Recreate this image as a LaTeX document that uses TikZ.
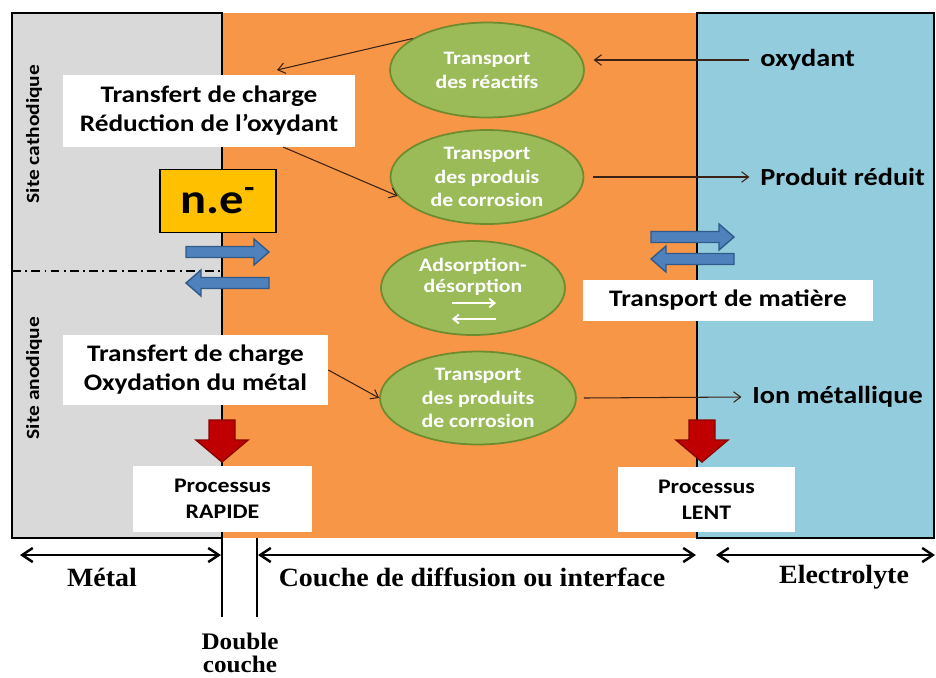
\documentclass[tikz,border=0pt]{standalone}
\usepackage{fontspec}
\setmainfont{Carlito}[FakeStretch=1.15]
\newfontfamily\timesf{Liberation Serif}[FakeStretch=1.06]
\usetikzlibrary{shapes.geometric,arrows.meta,calc}
\definecolor{metalc}{HTML}{D9D9D9}
\definecolor{orangec}{HTML}{F79646}
\definecolor{bluec}{HTML}{93CDDD}
\definecolor{egreen}{HTML}{9BBB59}
\definecolor{egreenD}{HTML}{6E8B2E}
\definecolor{yellowc}{HTML}{FFC000}
\definecolor{barrow}{HTML}{4F81BD}
\definecolor{barrowD}{HTML}{2F5A8A}
\definecolor{redc}{HTML}{C00000}
\definecolor{redD}{HTML}{8B0000}
\definecolor{arrowc}{HTML}{3A2215}
\tikzset{
  lab/.style={fill=white, draw=none, font=\bfseries\fontsize{13.5}{16.5}\selectfont, align=center, inner sep=0pt},
  procbox/.style={fill=white, draw=none, font=\bfseries\fontsize{11.8}{14.8}\selectfont, align=center, inner sep=0pt},
  ell/.style={ellipse, fill=egreen, draw=egreenD, line width=1pt, text=white, font=\bfseries\fontsize{10.8}{13.6}\selectfont, align=center, inner sep=0pt},
  plain/.style={font=\bfseries\fontsize{14}{17}\selectfont, inner sep=0pt},
  thinarr/.style={-{Straight Barb[length=4pt,width=6pt]}, line width=0.6pt, draw=arrowc},
  dimarr/.style={{Straight Barb[length=6pt,width=8pt]}-{Straight Barb[length=6pt,width=8pt]}, line width=1.4pt},
  bot/.style={font=\timesf\bfseries\fontsize{15}{17}\selectfont, inner sep=0pt, align=center},
  whitearr/.style={-{Straight Barb[length=3pt,width=5pt]}, line width=1.1pt, draw=white},
  bluebar/.style={fill=barrow, draw=barrowD, line width=0.8pt},
  redbar/.style={fill=redc, draw=redD, line width=0.8pt},
  blueR/.pic={\filldraw[bluebar] (0,-5.5) -- (68,-5.5) -- (68,-13) -- (83,0) -- (68,13) -- (68,5.5) -- (0,5.5) -- cycle;},
  blueL/.pic={\filldraw[bluebar] (0,-5.5) -- (-68,-5.5) -- (-68,-13) -- (-83,0) -- (-68,13) -- (-68,5.5) -- (0,5.5) -- cycle;},
  redD/.pic={\filldraw[redbar] (-13,0) -- (13,0) -- (13,20) -- (26,20) -- (0,42) -- (-26,20) -- (-13,20) -- cycle;}
}
\begin{document}
\begin{tikzpicture}[x=0.02cm,y=-0.02cm]
\useasboundingbox (0,0) rectangle (936,677);
\fill[white] (0,0) rectangle (936,677);
% zones
\fill[orangec] (222,13) rectangle (697,538);
\filldraw[fill=metalc, draw=black, line width=1.5pt] (12,13) rectangle (222,538);
\filldraw[fill=bluec, draw=black, line width=1.5pt] (697,13) rectangle (934,538);
% interface lines
\draw[line width=1.6pt] (222,13) -- (222,617);
\draw[line width=1.6pt] (257,538) -- (257,617);
\draw[line width=1pt, dash pattern=on 5pt off 2.5pt on 1pt off 2.5pt] (12,271) -- (222,271);
% side labels
\node[rotate=90, font=\bfseries\fontsize{10.6}{13}\selectfont, inner sep=0pt] (cath) at (34,134) {Site cathodique};
\node[rotate=90, font=\bfseries\fontsize{10.6}{13}\selectfont, inner sep=0pt] (anod) at (34,378) {Site anodique};
% label boxes
\node[lab, minimum width=5.84cm, minimum height=1.44cm] (box1) at (209,111) {Transfert de charge\\R\'eduction de l'oxydant};
\node[lab, minimum width=5.3cm, minimum height=1.4cm] (box2) at (195.5,370) {Transfert de charge\\Oxydation du m\'etal};
\node[fill=yellowc, draw=black, line width=0.8pt, minimum width=2.32cm, minimum height=1.26cm, inner sep=0pt, font=\bfseries\fontsize{24}{28}\selectfont] (ne) at (218,201) {n.e\textsuperscript{-}};
\node[lab, minimum width=5.8cm, minimum height=0.82cm] (matiere) at (728,300) {Transport de mati\`ere};
% blue arrows
\pic at (186,252) {blueR};
\pic at (269,283) {blueL};
\pic at (651,237) {blueR};
\pic at (734,259) {blueL};
% ellipses
\node[ell, minimum width=3.88cm, minimum height=1.9cm] (E1) at (487,70) {Transport\\des r\'eactifs};
\node[ell, minimum width=3.86cm, minimum height=1.88cm] (E2) at (487,177) {Transport\\des produis\\de corrosion};
\node[ell, minimum width=3.68cm, minimum height=1.88cm] (E3) at (473,288) {};
\node[text=white, font=\bfseries\fontsize{10.8}{12}\selectfont, align=center, inner sep=0pt] (E3t) at (473,277) {Adsorption-\\d\'esorption};
\coordinate (w1a) at (452,303); \coordinate (w1b) at (496,303);
\coordinate (w2a) at (496,319); \coordinate (w2b) at (452,319);
\draw[whitearr] (w1a) -- (w1b);
\draw[whitearr] (w2a) -- (w2b);
\node[ell, minimum width=3.92cm, minimum height=1.86cm] (E4) at (478,398) {Transport\\des produits\\de corrosion};
% right texts
\node[plain, anchor=west] (oxy) at (760,60) {oxydant};
\node[plain, anchor=west] (prod) at (760,177) {Produit r\'eduit};
\node[plain, anchor=west] (ion) at (752,397) {Ion m\'etallique};
% thin arrows
\coordinate (t1) at (277,70);
\coordinate (s2) at (283,147);
\draw[thinarr] (E1.157) -- (t1);
\draw[thinarr] (s2) -- (E2.192);
\draw[thinarr] ($(oxy.west)+(-6pt,0)$) -- ($(E1.east |- oxy.west)+(5pt,0)$);
\draw[thinarr] ([xshift=5pt]E2.east) -- ([xshift=-6pt]prod.west);
\draw[thinarr] (box2.east) -- (E4.west);
\draw[thinarr] ([xshift=4pt]E4.east) -- ([xshift=-6pt]ion.west);
% red arrows
\pic at (222,420) {redD};
\pic at (702,420) {redD};
% process boxes
\node[procbox, minimum width=3.58cm, minimum height=1.32cm] (rapide) at (222.5,499) {Processus\\RAPIDE};
\node[procbox, minimum width=3.54cm, minimum height=1.3cm] (lent) at (706.5,499.5) {Processus\\LENT};
% bottom dimension arrows
\coordinate (m1) at (20,555); \coordinate (m2) at (221,555);
\coordinate (c1) at (258,555); \coordinate (c2) at (696,555);
\coordinate (e1) at (716,555); \coordinate (e2) at (935,555);
\draw[dimarr] (m1) -- (m2);
\draw[dimarr] (c1) -- (c2);
\draw[dimarr] (e1) -- (e2);
\node[bot] (metal) at (102,577) {M\'etal};
\node[bot] (couche) at (472,577) {Couche de diffusion ou interface};
\node[bot] (electro) at (844,577) {Electrolyte};
\node[bot, font=\timesf\bfseries\fontsize{13.5}{13.5}\selectfont] (double) at (240,653) {Double\\couche};
\end{tikzpicture}
\end{document}
